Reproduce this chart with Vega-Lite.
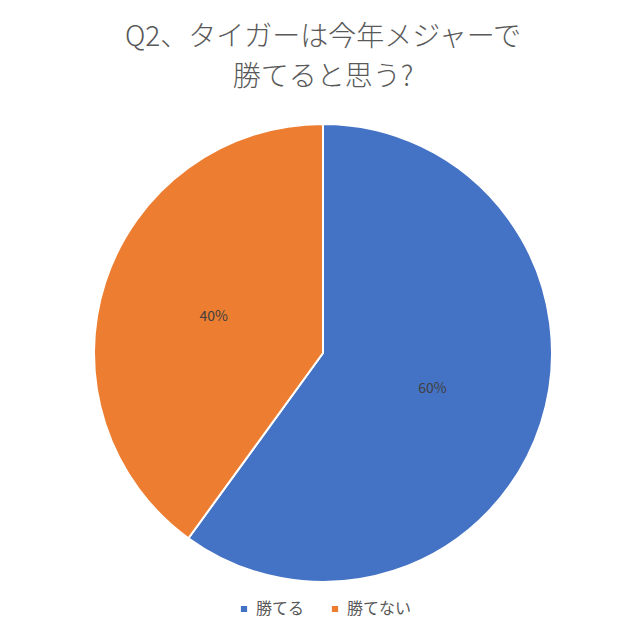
{
  "$schema": "https://vega.github.io/schema/vega-lite/v6.json",
  "autosize": "none",
  "width": 634,
  "height": 458,
  "padding": {"left": 6, "top": 124, "right": 0, "bottom": 58},
  "background": "white",
  "title": {
    "text": ["Q2、タイガーは今年メジャーで", "勝てると思う?"],
    "font": "Noto Sans CJK JP",
    "fontSize": 28,
    "fontWeight": 300,
    "color": "#595959",
    "lineHeight": 40,
    "anchor": "middle",
    "offset": 28
  },
  "data": {
    "values": [
      {"answer": "勝てる", "share": 60, "label": "60%"},
      {"answer": "勝てない", "share": 40, "label": "40%"}
    ]
  },
  "encoding": {
    "theta": {"field": "share", "type": "quantitative", "stack": true},
    "order": {"field": "share", "type": "quantitative", "sort": "descending"}
  },
  "layer": [
    {
      "mark": {"type": "arc", "outerRadius": 229, "stroke": "white", "strokeWidth": 2},
      "encoding": {
        "color": {
          "field": "answer",
          "type": "nominal",
          "scale": {"domain": ["勝てる", "勝てない"], "range": ["#4472C4", "#ED7D31"]},
          "legend": {
            "title": null,
            "orient": "none",
            "legendX": 230,
            "legendY": 477,
            "direction": "horizontal",
            "symbolType": "square",
            "symbolSize": 60,
            "labelFont": "Noto Sans CJK JP",
            "labelFontSize": 16,
            "labelColor": "#595959",
            "columnPadding": 22
          }
        }
      }
    },
    {
      "mark": {"type": "text", "radius": 115, "font": "Noto Sans CJK JP", "fontSize": 14, "color": "#404040"},
      "encoding": {
        "text": {"field": "label", "type": "nominal"}
      }
    }
  ]
}
